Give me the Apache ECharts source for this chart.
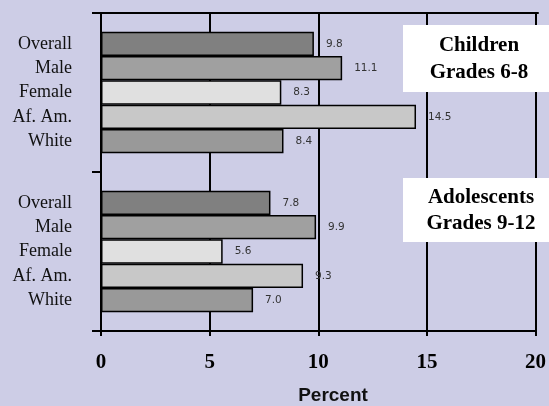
<!DOCTYPE html>
<html>
<head>
<meta charset="utf-8">
<script src="https://cdn.jsdelivr.net/npm/echarts@6/dist/echarts.min.js"></script>
<style>html,body{margin:0;padding:0;background:#CDCDE6;}#c{width:549px;height:406px;}</style>
</head>
<body>
<div id="c"></div>
<script>
const groups = ['Children', 'Adolescents'];
const seriesNames = ['Overall', 'Male', 'Female', 'Af. Am.', 'White'];
const overall = [9.8, 7.8];
const male = [11.1, 9.9];
const female = [8.3, 5.6];
const afam = [14.5, 9.3];
const white = [8.4, 7.0];
const xTicks = [0, 5, 10, 15, 20];
const boxTexts = ['Children\nGrades 6-8', 'Adolescents\nGrades 9-12'];
const axisTitle = 'Percent';

const values = [overall, male, female, afam, white];
const colors = ['#808080', '#A0A0A0', '#E0E0E0', '#C8C8C8', '#999999'];

const chart = echarts.init(document.getElementById('c'));
const gridPos = { left: 101, right: 11, top: 13, bottom: 75 };
const barSeries = [];
const nameSeries = [];
values.forEach((v, i) => {
  barSeries.push({
    type: 'bar', name: seriesNames[i], data: v, xAxisIndex: 0, yAxisIndex: 0,
    barGap: '0%', barCategoryGap: '23.6%',
    itemStyle: { color: colors[i], borderColor: '#000', borderWidth: 1.5 },
    label: { show: true, position: 'right', distance: 12, color: '#333',
      fontFamily: 'DejaVu Sans', fontSize: 10.5,
      formatter: p => Number(p.value).toFixed(1) },
    silent: true, animation: false
  });
  nameSeries.push({
    type: 'bar', name: seriesNames[i] + '_n', data: v, xAxisIndex: 1, yAxisIndex: 1,
    barGap: '0%', barCategoryGap: '23.6%',
    itemStyle: { color: 'rgba(0,0,0,0)' },
    label: { show: true, position: 'left', distance: 29, color: '#111',
      fontFamily: 'Liberation Serif', fontSize: 18,
      formatter: () => seriesNames[i] },
    silent: true, animation: false
  });
});

chart.setOption({
  backgroundColor: '#CDCDE6',
  animation: false,
  grid: [Object.assign({}, gridPos), Object.assign({}, gridPos)],
  xAxis: [{
    type: 'value', gridIndex: 0, min: xTicks[0], max: xTicks[xTicks.length - 1], interval: 5,
    axisLine: { show: true, lineStyle: { color: '#000', width: 2 } },
    axisTick: { show: true, length: 5, lineStyle: { color: '#000', width: 2 } },
    splitLine: { show: true, lineStyle: { color: '#000', width: 2 } },
    axisLabel: { color: '#000', fontFamily: 'Liberation Serif', fontWeight: 'bold', fontSize: 21, margin: 21 }
  }, {
    type: 'value', gridIndex: 1, position: 'top', min: 0, max: 20,
    axisLine: { show: true, lineStyle: { color: '#000', width: 2 } },
    axisTick: { show: false }, axisLabel: { show: false }, splitLine: { show: false }
  }],
  yAxis: [{
    type: 'category', gridIndex: 0, data: groups, inverse: true,
    axisLine: { show: true, lineStyle: { color: '#000', width: 2 } },
    axisTick: { show: true, length: 9, lineStyle: { color: '#000', width: 2 } },
    axisLabel: { show: false }
  }, {
    type: 'category', gridIndex: 1, data: groups, inverse: true,
    axisLine: { show: false }, axisTick: { show: false }, axisLabel: { show: false }
  }],
  series: barSeries.concat(nameSeries),
  graphic: [
    { type: 'rect', shape: { x: 403, y: 25, width: 150, height: 67 }, style: { fill: '#fff' }, z: 100 },
    { type: 'text', x: 479, y: 59, z: 101, style: { text: boxTexts[0], align: 'center', verticalAlign: 'middle',
        font: 'bold 21px "Liberation Serif"', lineHeight: 27, fill: '#000' } },
    { type: 'rect', shape: { x: 403, y: 178, width: 150, height: 64 }, style: { fill: '#fff' }, z: 100 },
    { type: 'text', x: 481, y: 211, z: 101, style: { text: boxTexts[1], align: 'center', verticalAlign: 'middle',
        font: 'bold 21px "Liberation Serif"', lineHeight: 26, fill: '#000' } },
    { type: 'text', x: 333, y: 396, z: 101, style: { text: axisTitle, align: 'center', verticalAlign: 'middle',
        font: 'bold 19px "Liberation Sans"', fill: '#111' } }
  ]
});
</script>
</body>
</html>
